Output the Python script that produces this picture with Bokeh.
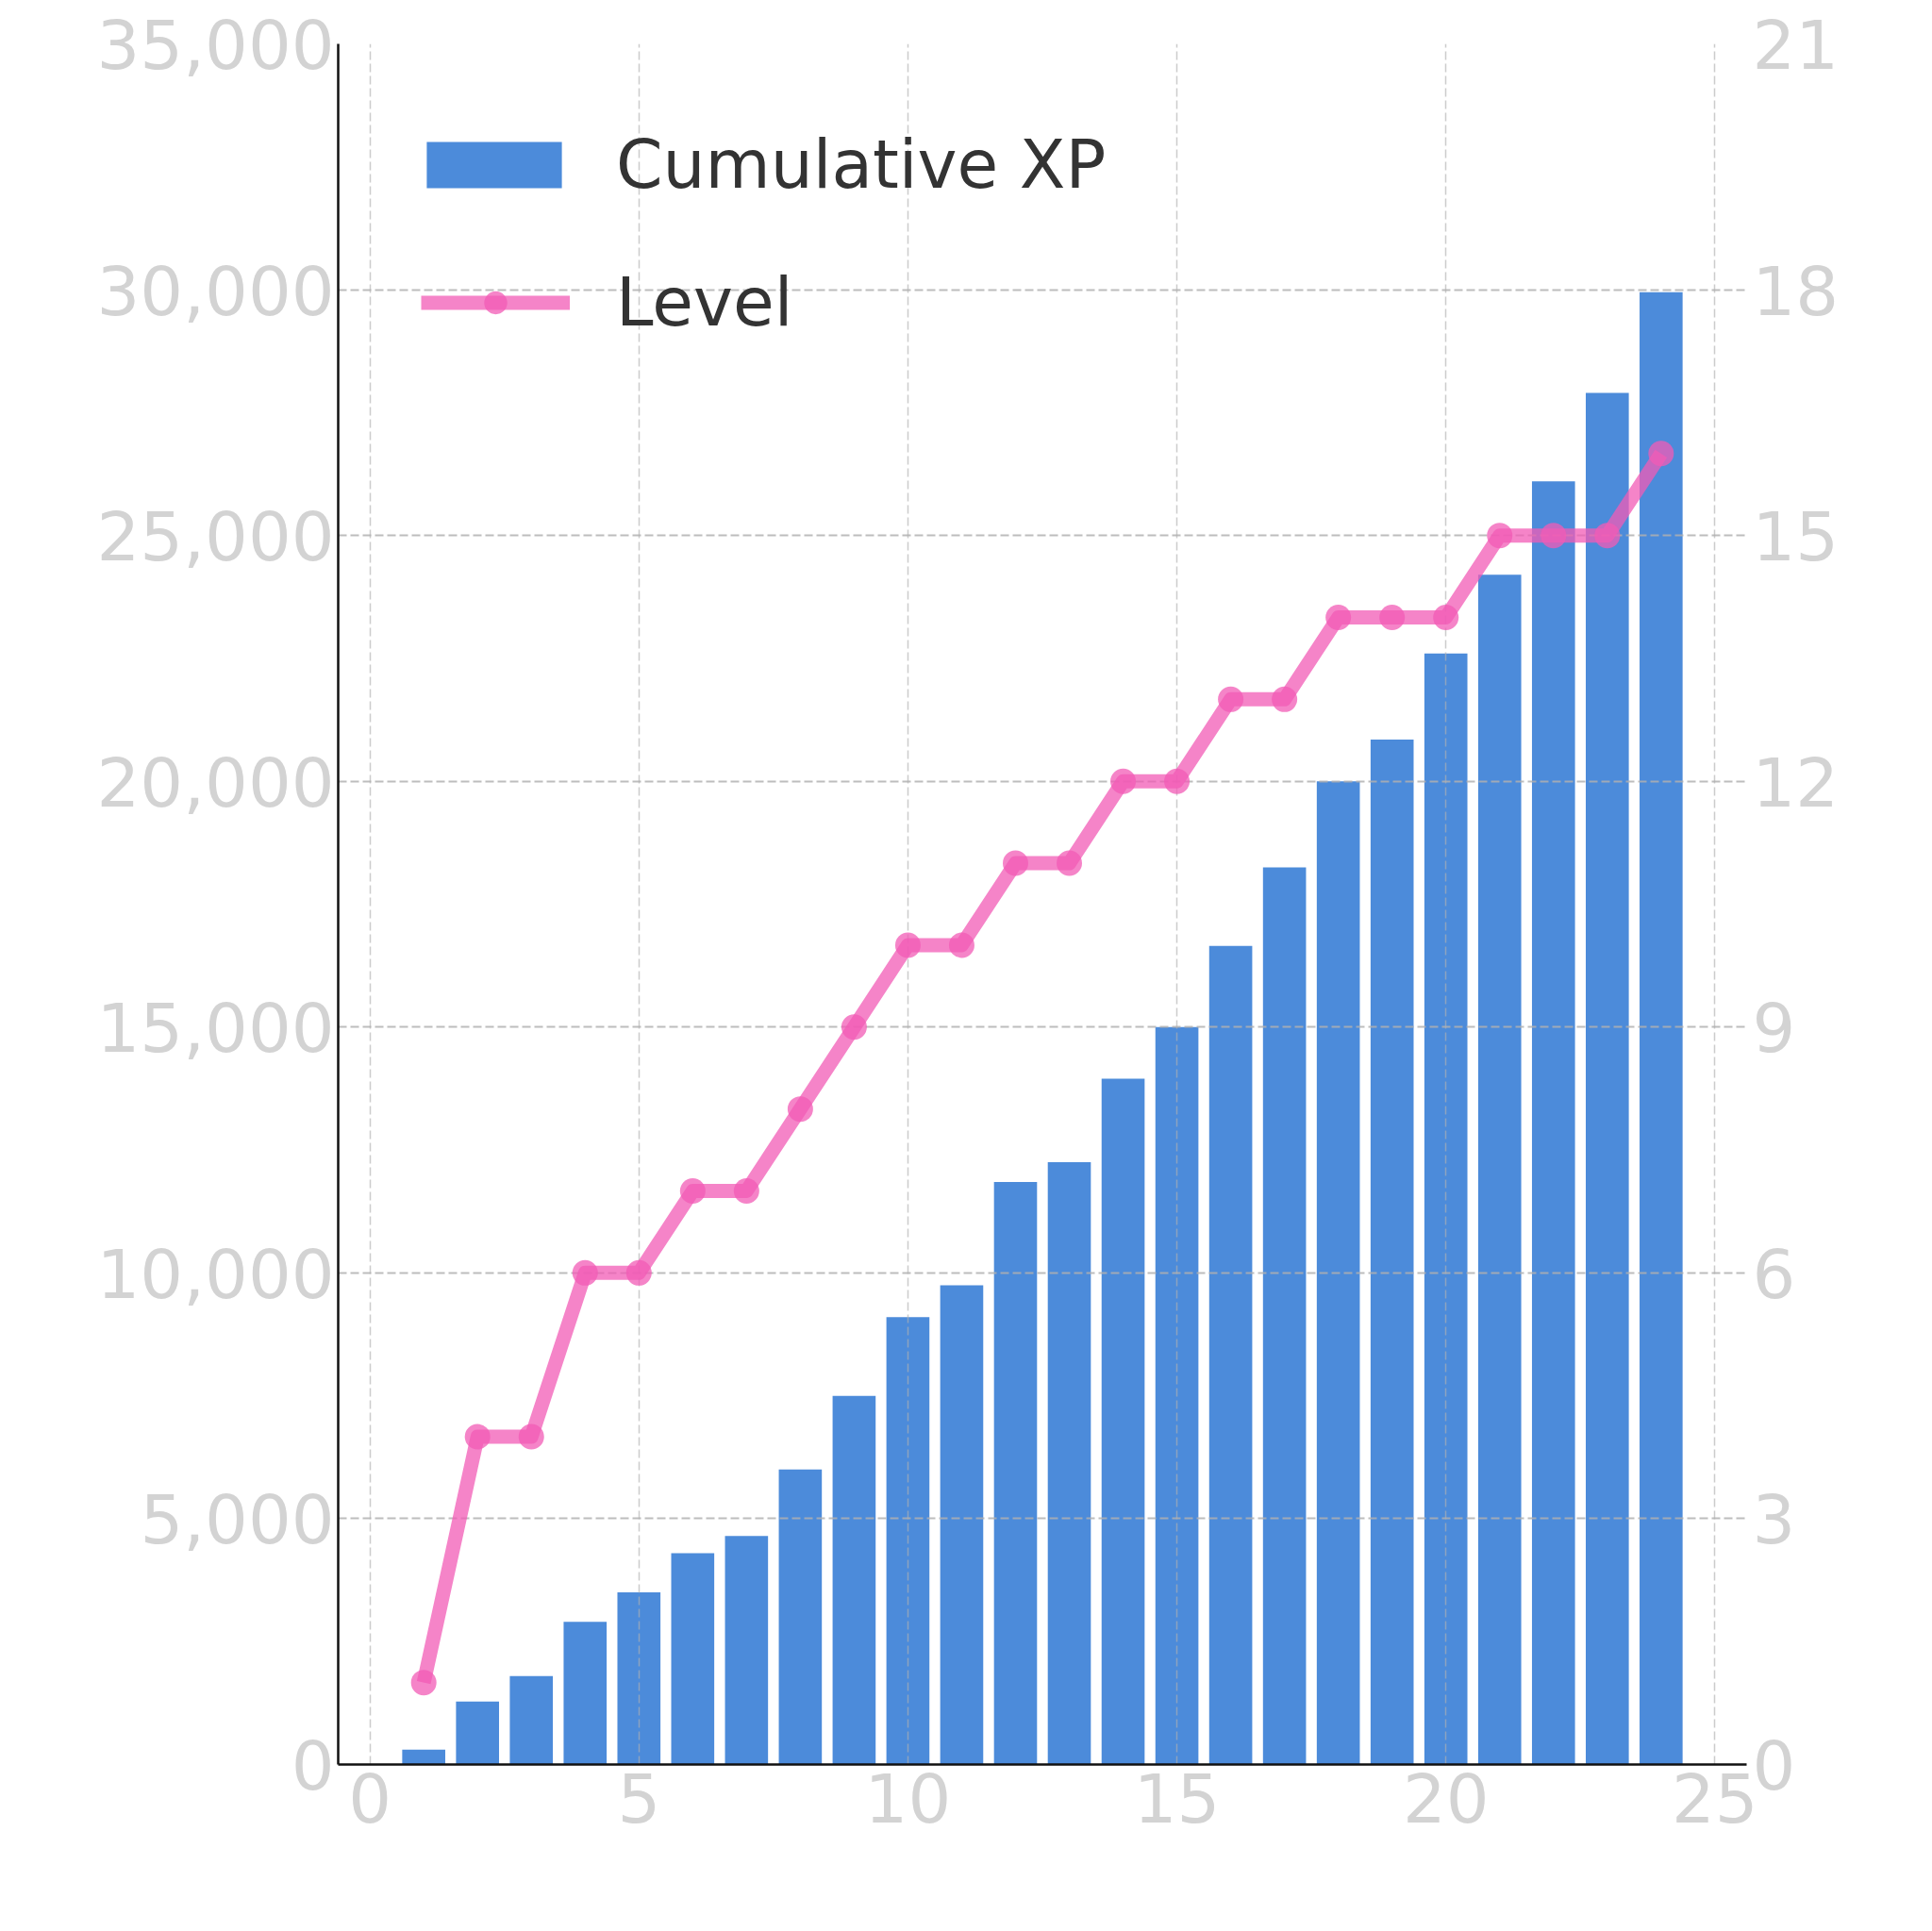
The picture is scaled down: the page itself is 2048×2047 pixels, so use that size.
from bokeh.plotting import figure
from bokeh.models import (Range1d, LinearAxis, FixedTicker, NumeralTickFormatter,
                          Legend, LegendItem, ColumnDataSource)
from bokeh.embed import file_html
from bokeh.resources import INLINE

# ---- data ----
points = list(range(1, 25))
cumulative_xp = [300, 1280, 1800, 2900, 3500, 4300, 4650, 6000, 7500, 9100, 9750, 11850,
                 12250, 13950, 15000, 16650, 18250, 20000, 20850, 22600, 24200, 26100, 27900, 29950]
level = [1, 4, 4, 6, 6, 7, 7, 8, 9, 10, 10, 11, 11, 12, 12, 13, 13, 14, 14, 14, 15, 15, 15, 16]
x_ticks = [0, 5, 10, 15, 20, 25]
xp_ticks = [0, 5000, 10000, 15000, 20000, 25000, 30000, 35000]
level_ticks = [0, 3, 6, 9, 12, 15, 18, 21]

BAR = "#4c8bda"
PINK = "#f15bb5"
TICK_COLOR = "#d3d3d3"
FONT = "DejaVu Sans"

src = ColumnDataSource(dict(x=points, xp=cumulative_xp, lvl=level))

p = figure(frame_width=1493, frame_height=1824,
           min_border_left=358, min_border_top=46, min_border_right=181, min_border_bottom=160,
           x_range=Range1d(-0.59, 25.59), y_range=Range1d(0, 35000),
           output_backend="svg", toolbar_location=None)
p.extra_y_ranges = {"level": Range1d(0, 21)}
p.outline_line_color = None
p.background_fill_color = "white"

bars = p.vbar(x="x", top="xp", width=0.8, source=src, fill_color=BAR, line_color=None, level="image")
line_r = p.line(x="x", y="lvl", source=src, y_range_name="level", line_color=PINK,
                line_alpha=0.75, line_width=15, line_join="round")
dots = p.scatter(x="x", y="lvl", source=src, y_range_name="level", size=27,
                 fill_color=PINK, fill_alpha=0.75, line_color=None)

# axes
for ax in (p.xaxis[0], p.yaxis[0]):
    ax.axis_line_color = "#111111"
    ax.axis_line_width = 2.5
    ax.major_tick_line_color = None
    ax.minor_tick_line_color = None
    ax.major_tick_out = 0
    ax.major_tick_in = 0
    ax.major_label_text_font = FONT
    ax.major_label_text_font_size = "72px"
    ax.major_label_text_color = TICK_COLOR

p.xaxis[0].ticker = FixedTicker(ticks=x_ticks)
p.xaxis[0].major_label_standoff = 8
p.yaxis[0].ticker = FixedTicker(ticks=xp_ticks)
p.yaxis[0].formatter = NumeralTickFormatter(format="0,0")
p.yaxis[0].major_label_standoff = 4

right = LinearAxis(y_range_name="level", ticker=FixedTicker(ticks=level_ticks))
right.axis_line_color = None
right.major_tick_line_color = None
right.minor_tick_line_color = None
right.major_tick_out = 0
right.major_tick_in = 0
right.major_label_text_font = FONT
right.major_label_text_font_size = "72px"
right.major_label_text_color = TICK_COLOR
right.major_label_standoff = 6
p.add_layout(right, "right")

# grids
p.xgrid.ticker = FixedTicker(ticks=x_ticks)
p.xgrid.grid_line_color = "#b0b0b0"
p.xgrid.grid_line_alpha = 0.65
p.xgrid.grid_line_width = 1.5
p.xgrid.grid_line_dash = "9 4"
p.ygrid.ticker = FixedTicker(ticks=xp_ticks)
p.ygrid.grid_line_color = "#b0b0b0"
p.ygrid.grid_line_alpha = 0.84
p.ygrid.grid_line_width = 2
p.ygrid.grid_line_dash = "9 4"

# legends
def style_legend(lg):
    lg.border_line_color = None
    lg.background_fill_alpha = 0
    lg.padding = 0
    lg.margin = 0
    lg.spacing = 0
    lg.label_text_font = FONT
    lg.label_text_font_size = "71px"
    lg.label_text_color = "#333333"

leg1 = Legend(items=[LegendItem(label="Cumulative XP", renderers=[bars])],
              location=(76, 1654), glyph_width=179, glyph_height=61, label_standoff=40)
leg2 = Legend(items=[LegendItem(label="Level", renderers=[line_r, dots])],
              location=(88, 1508), glyph_width=158, glyph_height=61, label_standoff=49)
for lg in (leg1, leg2):
    style_legend(lg)
    p.add_layout(lg, "center")

open("out.html", "w").write(file_html(p, INLINE))
